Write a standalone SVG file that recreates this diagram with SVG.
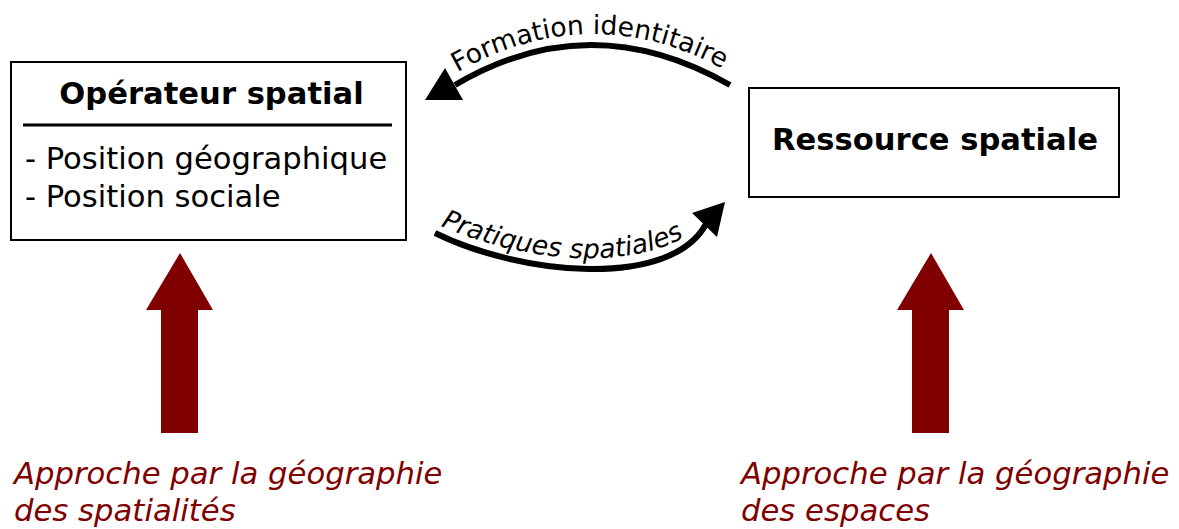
<svg xmlns="http://www.w3.org/2000/svg" width="1179" height="529" viewBox="0 0 1179 529">
<style>
.box{fill:#fff;stroke:#000;stroke-width:2}
.title{font-family:"DejaVu Sans",sans-serif;font-weight:bold;font-size:30.6px;fill:#000}
.item{font-family:"DejaVu Sans",sans-serif;font-size:30.6px;fill:#000}
.lbl{font-family:"DejaVu Sans",sans-serif;font-size:26.5px;fill:#000}
.conn{fill:none;stroke:#000;stroke-width:6}
.red{fill:#800000}
.note{font-family:"DejaVu Sans",sans-serif;font-style:italic;font-size:30.7px;fill:#800000}
</style>
<defs>
<path id="tp1" d="M438,84 Q590,-14 742,80"/>
<path id="tp2" d="M432,222 C520,264 660,280 714,212"/>
</defs>
<rect width="1179" height="529" fill="#fff"/>
<g id="operateur">
<rect class="box" x="11" y="62" width="395" height="178"/>
<text class="title" x="211.5" y="104" text-anchor="middle">Opérateur spatial</text>
<line x1="23" y1="125" x2="392" y2="125" stroke="#000" stroke-width="3"/>
<text class="item" x="25" y="169">- Position géographique</text>
<text class="item" x="25" y="207">- Position sociale</text>
</g>
<g id="ressource">
<rect class="box" x="749" y="88" width="370" height="109"/>
<text class="title" x="935" y="150" text-anchor="middle">Ressource spatiale</text>
</g>
<g id="connectors">
<path class="conn" d="M730,85 Q590,5 455,85"/>
<polygon points="425,100 445,68 463,100" fill="#000"/>
<text class="lbl"><textPath href="#tp1" startOffset="50%" text-anchor="middle">Formation identitaire</textPath></text>
<path class="conn" d="M435,233 C520,275 670,290 706,224"/>
<polygon points="725,202 692,213 717,237" fill="#000"/>
<text class="lbl" font-style="italic"><textPath href="#tp2" startOffset="45%" text-anchor="middle">Pratiques spatiales</textPath></text>
</g>
<g id="approche-spatialites">
<polygon class="red" points="180,253 213,310 198,310 198,433 161,433 161,310 146,310"/>
<text class="note" x="14" y="484">Approche par la géographie</text>
<text class="note" x="14" y="521">des spatialités</text>
</g>
<g id="approche-espaces">
<polygon class="red" points="931,253 964,310 949,310 949,433 912,433 912,310 897,310"/>
<text class="note" x="741" y="484">Approche par la géographie</text>
<text class="note" x="741" y="521">des espaces</text>
</g>
</svg>
